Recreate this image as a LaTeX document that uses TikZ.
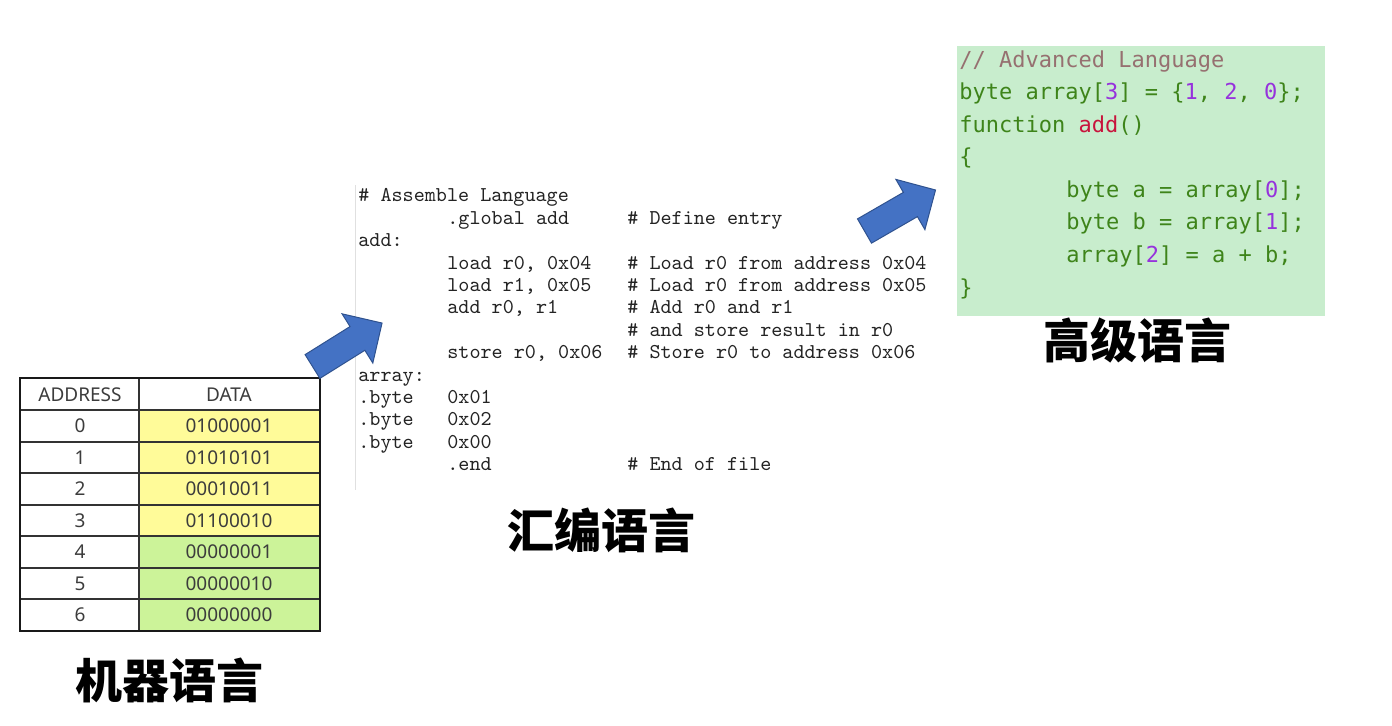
\documentclass[tikz,border=0pt]{standalone}
\usepackage{fontspec}
\setmainfont{Noto Sans}
\newfontfamily\cjk{Noto Sans CJK SC}
\newfontfamily\asmfont{Latin Modern Mono}
\newfontfamily\codefont{DejaVu Sans Mono}

\definecolor{celly}{RGB}{255,251,153}
\definecolor{cellg}{RGB}{204,243,153}
\definecolor{celltext}{RGB}{60,60,60}
\definecolor{asmtext}{RGB}{35,35,35}
\definecolor{codebg}{RGB}{200,237,205}
\definecolor{codegreen}{RGB}{62,132,26}
\definecolor{codecomment}{RGB}{150,112,112}
\definecolor{codenum}{RGB}{150,50,220}
\definecolor{codefunc}{RGB}{200,20,60}
\definecolor{arrowblue}{RGB}{68,114,196}
\definecolor{arrowedge}{RGB}{47,82,143}

\tikzset{
  cell/.style={inner sep=0pt, text=celltext, font=\fontsize{9.5}{11}\selectfont},
  asm/.style={anchor=mid west, inner sep=0pt, text=asmtext, font=\asmfont\fontsize{10.55}{12}\selectfont},
  code/.style={anchor=mid west, inner sep=0pt, text=codegreen, font=\codefont\fontsize{11}{13}\selectfont},
  title/.style={inner sep=0pt, font=\cjk\bfseries\fontsize{23.5}{28}\selectfont},
  tableline/.style={draw=black!80, line width=0.75pt},
  tableborder/.style={draw=black!90, line width=1pt},
  blockarrow/.style={fill=arrowblue, draw=arrowedge, line width=0.5pt, line join=miter},
}

% block arrow: tail centre x, tail centre y, angle
\newcommand{\blockarrow}[3]{%
  \begin{scope}[shift={(#1,#2)}, rotate=#3]
    \draw[blockarrow] (0,-14) -- (53,-14) -- (53,-29) -- (82,0) -- (53,29) -- (53,14) -- (0,14) -- cycle;
  \end{scope}}

\begin{document}
\begin{tikzpicture}[x=0.5pt, y=-0.5pt]
  \useasboundingbox[fill=white] (0,0) rectangle (1392,725);

  % Machine language table
  \fill[celly] (139,410) rectangle (320,536);
  \fill[cellg] (139,536) rectangle (320,631);
  \foreach \y in {410,442,473,505,536,568,599}
    \draw[tableline] (20,\y) -- (320,\y);
  \draw[tableline] (139,378) -- (139,631);
  \draw[tableborder] (20,378) rectangle (320,631);
  \node[cell] (addr-head) at (80,395) {ADDRESS};
  \node[cell] (data-head) at (229,395) {DATA};
  \foreach \i/\y/\v in {0/426/01000001, 1/458/01010101, 2/489/00010011, 3/521/01100010,
                        4/552/00000001, 5/584/00000010, 6/615/00000000} {
    \node[cell] (addr-\i) at (80,\y) {\i};
    \node[cell] (data-\i) at (229,\y) {\v};
  }
  \node[title] (machine) at (169,680) {机器语言};

  % Assembly language listing
  \draw[black!12, line width=0.5pt] (355,185) -- (355,490);
  \node[asm] (asm-1a) at (358,196) {\# Assemble Language};
  \node[asm] (asm-2b) at (447,219) {.global add};
  \node[asm] (asm-2c) at (627,219) {\# Define entry};
  \node[asm] (asm-3a) at (358,241) {add:};
  \node[asm] (asm-4b) at (447,264) {load r0, 0x04};
  \node[asm] (asm-4c) at (627,264) {\# Load r0 from address 0x04};
  \node[asm] (asm-5b) at (447,286) {load r1, 0x05};
  \node[asm] (asm-5c) at (627,286) {\# Load r0 from address 0x05};
  \node[asm] (asm-6b) at (447,308) {add r0, r1};
  \node[asm] (asm-6c) at (627,308) {\# Add r0 and r1};
  \node[asm] (asm-7c) at (627,331) {\# and store result in r0};
  \node[asm] (asm-8b) at (447,353) {store r0, 0x06};
  \node[asm] (asm-8c) at (627,353) {\# Store r0 to address 0x06};
  \node[asm] (asm-9a) at (358,376) {array:};
  \node[asm] (asm-10a) at (358,398) {.byte};
  \node[asm] (asm-10b) at (447,398) {0x01};
  \node[asm] (asm-11a) at (358,420) {.byte};
  \node[asm] (asm-11b) at (447,420) {0x02};
  \node[asm] (asm-12a) at (358,443) {.byte};
  \node[asm] (asm-12b) at (447,443) {0x00};
  \node[asm] (asm-13b) at (447,465) {.end};
  \node[asm] (asm-13c) at (627,465) {\# End of file};
  \node[title] (assembly) at (601,530) {汇编语言};

  % High level language code
  \fill[codebg] (957,46) rectangle (1325,316);
  \node[code, text=codecomment] (code-1) at (959,62) {// Advanced Language};
  \node[code] (code-2) at (959,94) {byte array[\textcolor{codenum}{3}] = \{\textcolor{codenum}{1}, \textcolor{codenum}{2}, \textcolor{codenum}{0}\};};
  \node[code] (code-3) at (959,127) {function \textcolor{codefunc}{add}()};
  \node[code] (code-4) at (959,159) {\{};
  \node[code] (code-5) at (1066,192) {byte a = array[\textcolor{codenum}{0}];};
  \node[code] (code-6) at (1066,224) {byte b = array[\textcolor{codenum}{1}];};
  \node[code] (code-7) at (1066,257) {array[\textcolor{codenum}{2}] = a + b;};
  \node[code] (code-8) at (959,290) {\}};
  \node[title] (highlevel) at (1137,340) {高级语言};

  % Arrows between the stages
  \blockarrow{312.5}{366.5}{32}
  \blockarrow{864.5}{231}{30}
\end{tikzpicture}
\end{document}
